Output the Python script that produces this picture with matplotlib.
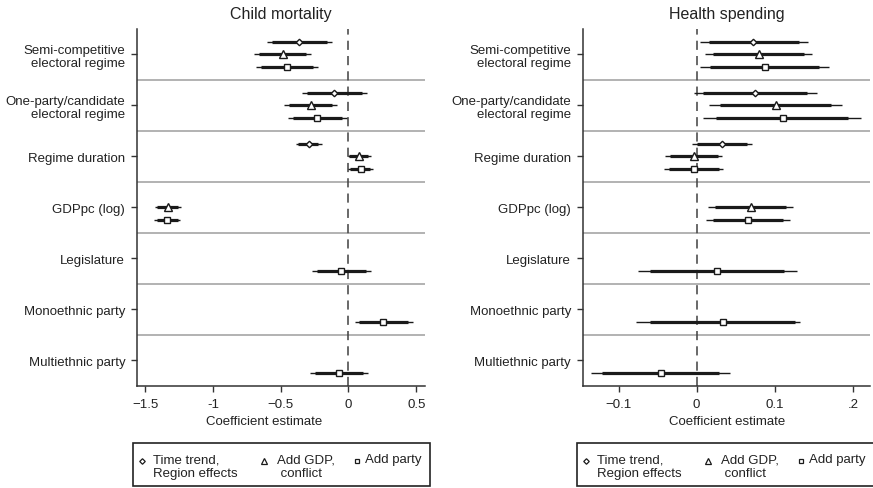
import numpy as np
import matplotlib
matplotlib.use("Agg")
import matplotlib.pyplot as plt
from matplotlib.lines import Line2D
from matplotlib.patches import Rectangle

plt.rcParams['font.family'] = ['Liberation Sans', 'DejaVu Sans']

nan = np.nan

groups = ["Semi-competitive\nelectoral regime",
          "One-party/candidate\nelectoral regime",
          "Regime duration", "GDPpc (log)", "Legislature",
          "Monoethnic party", "Multiethnic party"]

model_labels = ["Time trend,\nRegion effects", "Add GDP,\n conflict", "Add party"]

# Child mortality: point estimates, 90% (thick) and 95% (thin) intervals
cm_m1_est = [-0.363, -0.105, -0.294, nan, nan, nan, nan]
cm_m1_lo95 = [-0.604, -0.345, -0.387, nan, nan, nan, nan]
cm_m1_hi95 = [-0.120, 0.134, -0.198, nan, nan, nan, nan]
cm_m1_lo90 = [-0.567, -0.309, -0.370, nan, nan, nan, nan]
cm_m1_hi90 = [-0.161, 0.097, -0.223, nan, nan, nan, nan]

cm_m2_est = [-0.486, -0.279, 0.077, -1.334, nan, nan, nan]
cm_m2_lo95 = [-0.695, -0.474, -0.006, -1.428, nan, nan, nan]
cm_m2_hi95 = [-0.279, -0.083, 0.166, -1.238, nan, nan, nan]
cm_m2_lo90 = [-0.658, -0.437, 0.006, -1.415, nan, nan, nan]
cm_m2_hi90 = [-0.314, -0.120, 0.146, -1.256, nan, nan, nan]

cm_m3_est = [-0.456, -0.230, 0.090, -1.342, -0.058, 0.256, -0.068]
cm_m3_lo95 = [-0.685, -0.449, 0.000, -1.433, -0.272, 0.048, -0.284]
cm_m3_hi95 = [-0.223, -0.013, 0.183, -1.244, 0.164, 0.478, 0.146]
cm_m3_lo90 = [-0.646, -0.412, 0.011, -1.415, -0.235, 0.080, -0.247]
cm_m3_hi90 = [-0.260, -0.050, 0.159, -1.260, 0.127, 0.441, 0.109]

# Health spending
hs_m1_est = [0.0726, 0.0747, 0.032, nan, nan, nan, nan]
hs_m1_lo95 = [0.0042, -0.004, -0.0064, nan, nan, nan, nan]
hs_m1_hi95 = [0.142, 0.154, 0.0705, nan, nan, nan, nan]
hs_m1_lo90 = [0.016, 0.0085, 0.0, nan, nan, nan, nan]
hs_m1_hi90 = [0.131, 0.141, 0.064, nan, nan, nan, nan]

hs_m2_est = [0.080, 0.101, -0.0035, 0.069, nan, nan, nan]
hs_m2_lo95 = [0.0107, 0.016, -0.0406, 0.015, nan, nan, nan]
hs_m2_hi95 = [0.148, 0.186, 0.033, 0.123, nan, nan, nan]
hs_m2_lo90 = [0.021, 0.030, -0.034, 0.0235, nan, nan, nan]
hs_m2_hi90 = [0.138, 0.172, 0.027, 0.1145, nan, nan, nan]

hs_m3_est = [0.0876, 0.110, -0.0035, 0.066, 0.0256, 0.0333, -0.046]
hs_m3_lo95 = [0.004, 0.0085, -0.0415, 0.0115, -0.0757, -0.0778, -0.1355]
hs_m3_hi95 = [0.170, 0.210, 0.034, 0.120, 0.128, 0.1325, 0.0427]
hs_m3_lo90 = [0.017, 0.0247, -0.035, 0.0205, -0.060, -0.060, -0.121]
hs_m3_hi90 = [0.157, 0.194, 0.028, 0.111, 0.112, 0.126, 0.029]

cm_xticks = [-1.5, -1, -0.5, 0, 0.5]
cm_xticklabels = ["\u22121.5", "-1", "\u22120.5", "0", "0.5"]
hs_xticks = [-0.1, 0, 0.1, 0.2]
hs_xticklabels = ["\u22120.1", "0", "0.1", ".2"]

markers = ["D", "^", "s"]
msizes = [3.3, 5.2, 3.8]
INK = "#1a1a1a"
TXT = "#222222"
FS = 9.5

fig = plt.figure(figsize=(8.73, 4.89), dpi=100)
W, H = 873.0, 489.0


def panel(rect, title, models, xlim, xticks, xticklabels):
    ax = fig.add_axes(rect)
    n = len(groups)
    ax.set_ylim(4 * n, 0)
    ax.set_xlim(*xlim)
    for g in range(1, n):
        ax.axhline(4 * g, color="#a6a6a6", lw=1.2, zorder=1)
    ax.axvline(0, color="#404040", lw=1.1, dashes=(6, 4), zorder=2)
    for r, (est, lo95, hi95, lo90, hi90) in enumerate(models):
        for g in range(n):
            if np.isnan(est[g]):
                continue
            y = 4 * g + r + 1
            ax.plot([lo95[g], hi95[g]], [y, y], color=INK, lw=1.0,
                    solid_capstyle="butt", zorder=3)
            ax.plot([lo90[g], hi90[g]], [y, y], color=INK, lw=2.3,
                    solid_capstyle="butt", zorder=3)
            ax.plot([est[g]], [y], marker=markers[r], ms=msizes[r],
                    mfc="white", mec=INK, mew=1.0, ls="none", zorder=4)
    ax.set_yticks([4 * g + 2 for g in range(n)])
    ax.set_yticklabels(groups, fontsize=FS, color=TXT,
                       multialignment="right", linespacing=1.1)
    ax.set_xticks(xticks)
    ax.set_xticklabels(xticklabels, fontsize=FS, color=TXT)
    ax.set_title(title, fontsize=11.5, color=TXT, pad=8)
    for s in ("top", "right"):
        ax.spines[s].set_visible(False)
    for s in ("left", "bottom"):
        ax.spines[s].set_color("#333333")
        ax.spines[s].set_linewidth(1.1)
    ax.tick_params(axis="both", direction="out", length=4.5, width=1.0,
                   color="#333333", pad=4)
    return ax


cm_models = [
    (cm_m1_est, cm_m1_lo95, cm_m1_hi95, cm_m1_lo90, cm_m1_hi90),
    (cm_m2_est, cm_m2_lo95, cm_m2_hi95, cm_m2_lo90, cm_m2_hi90),
    (cm_m3_est, cm_m3_lo95, cm_m3_hi95, cm_m3_lo90, cm_m3_hi90),
]
hs_models = [
    (hs_m1_est, hs_m1_lo95, hs_m1_hi95, hs_m1_lo90, hs_m1_hi90),
    (hs_m2_est, hs_m2_lo95, hs_m2_hi95, hs_m2_lo90, hs_m2_hi90),
    (hs_m3_est, hs_m3_lo95, hs_m3_hi95, hs_m3_lo90, hs_m3_hi90),
]

ax_top, ax_bot = 30.0, 386.7
left_rect = [137 / W, 1 - ax_bot / H, 288 / W, (ax_bot - ax_top) / H]
right_rect = [582.7 / W, 1 - ax_bot / H, 287.3 / W, (ax_bot - ax_top) / H]

ax1 = panel(left_rect, "Child mortality", cm_models, (-1.56, 0.565),
            cm_xticks, cm_xticklabels)
ax2 = panel(right_rect, "Health spending", hs_models, (-0.146, 0.222),
            hs_xticks, hs_xticklabels)

# axis titles below the tick labels
for xc in (264.0, 726.7):
    fig.text(xc / W, 1 - 422.0 / H, "Coefficient estimate", fontsize=FS,
             color=TXT, ha="center", va="center")


def legend_box(x0):
    """Framed key below a panel; x0 is the left edge in pixels."""
    top, bot, width = 444.0, 486.7, 297.0
    fig.add_artist(Rectangle((x0 / W, 1 - bot / H), width / W, (bot - top) / H,
                             transform=fig.transFigure, fill=False,
                             ec=TXT, lw=1.2, clip_on=False))
    mark_off = [9.0, 131.0, 224.0]
    text_off = [11.0, 13.0, 8.0]
    for k, lab in enumerate(model_labels):
        mx = x0 + mark_off[k]
        fig.add_artist(Line2D([mx / W], [1 - 461.5 / H], marker=markers[k],
                              ms=msizes[k] * 0.85, mfc="white", mec=INK,
                              mew=0.9, ls="none", transform=fig.transFigure))
        fig.text((mx + text_off[k]) / W, 1 - 454.5 / H, lab, fontsize=FS,
                 color=TXT, va="top", ha="left", linespacing=1.2)


legend_box(132.7)
legend_box(576.7)

fig.savefig("out.png", dpi=100)
